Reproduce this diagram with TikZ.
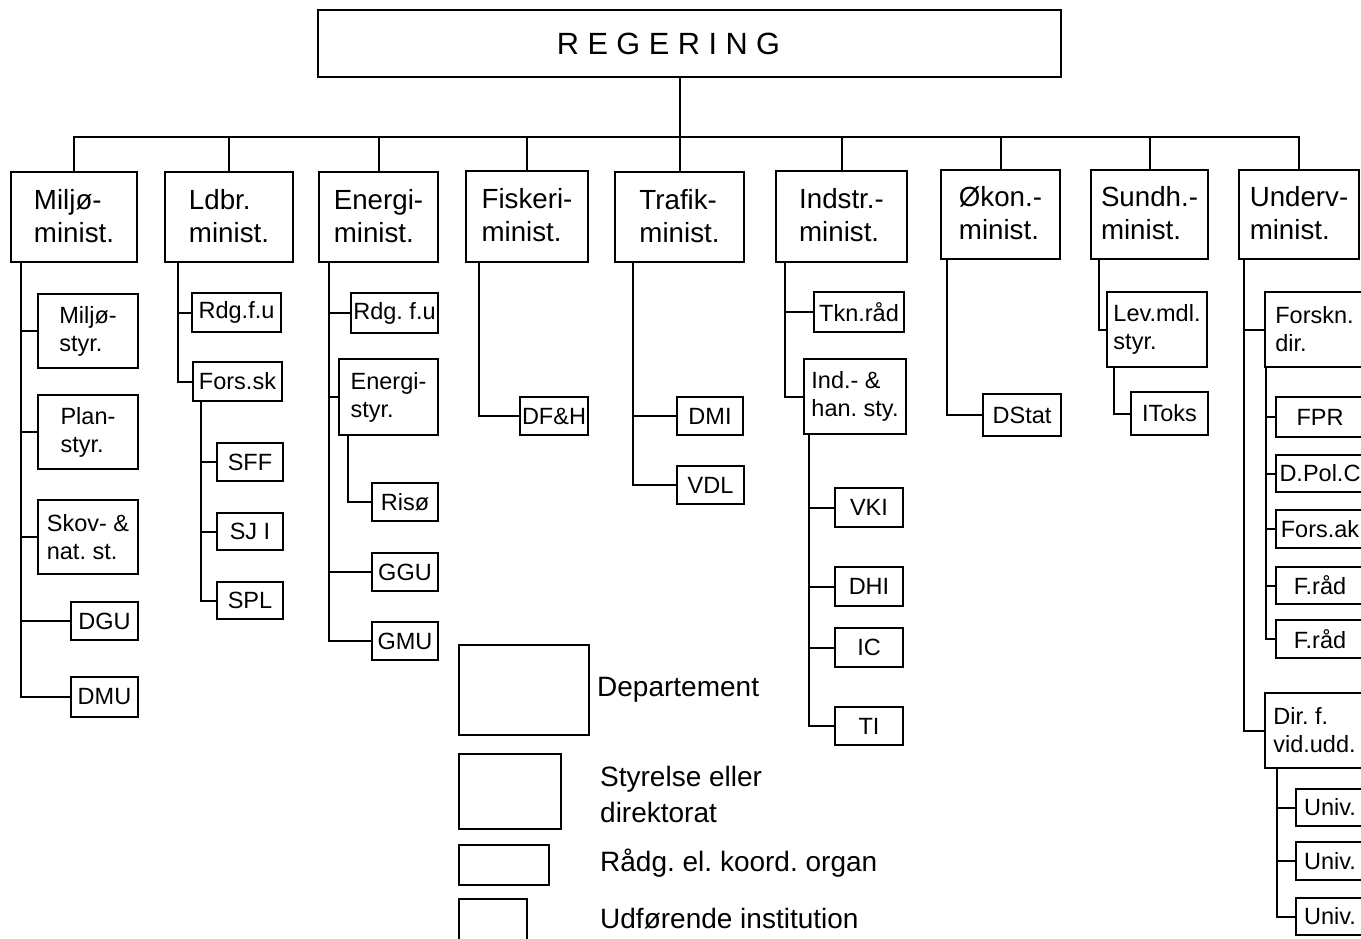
\documentclass[tikz,border=0pt]{standalone}
\usepackage{fontspec}
\setmainfont{Liberation Sans}
\frenchspacing
\begin{document}
\begin{tikzpicture}[x=1pt,y=-1pt,
  bx/.style={draw, line width=2pt, inner sep=0pt, align=left},
  rect/.style n args={4}{minimum width={(#3)-(#1)}, minimum height={(#4)-(#2)},
     at={({((#1)+(#3))/2},{((#2)+(#4))/2})}},
  mtxt/.style={font=\fontsize{27.7}{33}\selectfont, text depth=3pt},
  stxt/.style={font=\fontsize{23.5}{28}\selectfont},
  ltxt/.style={font=\fontsize{28}{36}\selectfont, inner sep=0pt, anchor=west, align=left},
  ln/.style={line width=2pt}]
\useasboundingbox (0,0) rectangle (1361,938);
\fill[white] (0,0) rectangle (1361,938);

% Government
\node[bx, font=\fontsize{30.7}{34}\selectfont, rect={318}{10}{1061}{77}] (reg)
  {R\kern8.5pt E\kern8.5pt G\kern8.5pt E\kern8.5pt R\kern8.5pt I\kern8.5pt N\kern8.5pt G\kern42pt};

% Ministries
\node[bx, mtxt, rect={11}{172}{137}{262}] (milj) {Miljø-\\minist.};
\node[bx, mtxt, rect={165}{172}{293}{262}] (ldbr) {Ldbr.\\minist.};
\node[bx, mtxt, rect={319}{172}{438}{262}] (ener) {Energi-\\minist.};
\node[bx, mtxt, rect={466}{171}{588}{262}] (fisk) {Fiskeri-\\minist.};
\node[bx, mtxt, rect={615}{172}{744}{262}] (traf) {Trafik-\\minist.};
\node[bx, mtxt, rect={776}{171}{907}{262}] (indu) {Indstr.-\\minist.};
\node[bx, mtxt, rect={941}{170}{1060}{259}] (okon) {Økon.-\\minist.};
\node[bx, mtxt, rect={1091}{170}{1208}{259}] (sund) {Sundh.-\\minist.};
\node[bx, mtxt, rect={1239}{170}{1359}{259}] (undv) {Underv-\\minist.};

% Bus
\coordinate (bus) at (0,137);
\draw[ln] (milj.north) |- (bus -| undv.north) -- (undv.north);
\foreach \m in {ldbr,ener,fisk,indu,okon,sund}
  \draw[ln] (\m.north) -- (\m.north |- bus);
\draw[ln] (reg.south -| traf.north) -- (traf.north);

% Miljo column
\node[bx, stxt, rect={38}{294}{138}{368}] (mstyr) {Miljø-\\styr.};
\node[bx, stxt, rect={38}{395}{138}{469}] (pstyr) {Plan-\\styr.};
\node[bx, stxt, rect={38}{500}{138}{574}] (sstyr) {Skov- \&\\nat. st.};
\node[bx, stxt, rect={71}{602}{138}{640}] (dgu) {DGU};
\node[bx, stxt, rect={71}{677}{138}{717}] (dmu) {DMU};
\coordinate (sMil) at (21,0);
\draw[ln] (milj.south -| sMil) |- (dmu.west);
\foreach \n in {mstyr,pstyr,sstyr,dgu} \draw[ln] (\n.west -| sMil) -- (\n.west);

% Ldbr column
\node[bx, stxt, rect={192}{293}{281}{332}] (lrdg) {Rdg.f.u};
\node[bx, stxt, rect={193}{362}{282}{401}] (fsk) {Fors.sk};
\node[bx, stxt, rect={217}{443}{283}{481}] (sff) {SFF};
\node[bx, stxt, rect={217}{513}{283}{550}] (sji) {SJ I};
\node[bx, stxt, rect={217}{582}{283}{619}] (spl) {SPL};
\coordinate (sLd) at (178,0);
\coordinate (sFs) at (201,0);
\draw[ln] (ldbr.south -| sLd) |- (fsk.west);
\draw[ln] (lrdg.west -| sLd) -- (lrdg.west);
\draw[ln] (fsk.south -| sFs) |- (spl.west);
\foreach \n in {sff,sji} \draw[ln] (\n.west -| sFs) -- (\n.west);

% Energi column
\node[bx, stxt, rect={351}{293}{438}{333}] (erdg) {Rdg. f.u};
\node[bx, stxt, rect={339}{359}{438}{435}] (estyr) {Energi-\\styr.};
\node[bx, stxt, rect={372}{483}{438}{521}] (riso) {Risø};
\node[bx, stxt, rect={372}{553}{438}{591}] (ggu) {GGU};
\node[bx, stxt, rect={372}{622}{438}{660}] (gmu) {GMU};
\coordinate (sEn) at (329,0);
\coordinate (sEs) at (348,0);
\draw[ln] (ener.south -| sEn) |- (gmu.west);
\foreach \n in {erdg,estyr,ggu} \draw[ln] (\n.west -| sEn) -- (\n.west);
\draw[ln] (estyr.south -| sEs) |- (riso.west);

% Fiskeri column
\node[bx, stxt, rect={520}{397}{588}{435}] (dfh) {DF\&H};
\coordinate (sFi) at (479,0);
\draw[ln] (fisk.south -| sFi) |- (dfh.west);

% Trafik column
\node[bx, stxt, rect={677}{397}{743}{435}] (dmi) {DMI};
\node[bx, stxt, rect={677}{466}{744}{504}] (vdl) {VDL};
\coordinate (sTr) at (633,0);
\draw[ln] (traf.south -| sTr) |- (vdl.west);
\draw[ln] (dmi.west -| sTr) -- (dmi.west);

% Industri column
\node[bx, stxt, rect={814}{292}{904}{332}] (tkn) {Tkn.råd};
\node[bx, stxt, rect={804}{359}{906}{434}] (ihs) {Ind.- \&\\han. sty.};
\node[bx, stxt, rect={835}{488}{903}{527}] (vki) {VKI};
\node[bx, stxt, rect={835}{567}{903}{606}] (dhi) {DHI};
\node[bx, stxt, rect={835}{628}{903}{667}] (ic) {IC};
\node[bx, stxt, rect={835}{707}{903}{745}] (ti) {TI};
\coordinate (sIn) at (785,0);
\coordinate (sIh) at (809,0);
\draw[ln] (indu.south -| sIn) |- (ihs.west);
\draw[ln] (tkn.west -| sIn) -- (tkn.west);
\draw[ln] (ihs.south -| sIh) |- (ti.west);
\foreach \n in {vki,dhi,ic} \draw[ln] (\n.west -| sIh) -- (\n.west);

% Okonomi column
\node[bx, stxt, rect={983}{394}{1061}{436}] (dstat) {DStat};
\coordinate (sOk) at (947,0);
\draw[ln] (okon.south -| sOk) |- (dstat.west);

% Sundhed column
\node[bx, stxt, rect={1107}{292}{1207}{367}] (lev) {Lev.mdl.\\styr.};
\node[bx, stxt, rect={1131}{392}{1208}{435}] (itoks) {IToks};
\coordinate (sSu) at (1099,0);
\coordinate (sLe) at (1114,0);
\draw[ln] (sund.south -| sSu) |- (lev.west);
\draw[ln] (lev.south -| sLe) |- (itoks.west);

% Undervisning column
\node[bx, stxt, rect={1265}{292}{1364}{367}] (fdir) {Forskn.\\dir.};
\node[bx, stxt, rect={1276}{397}{1364}{437}] (fpr) {FPR};
\node[bx, stxt, rect={1276}{455}{1364}{492}] (dpol) {D.Pol.C};
\node[bx, stxt, rect={1276}{510}{1364}{548}] (fak) {Fors.ak};
\node[bx, stxt, rect={1276}{567}{1364}{604}] (frad1) {F.råd};
\node[bx, stxt, rect={1276}{620}{1364}{658}] (frad2) {F.råd};
\node[bx, stxt, rect={1265}{693}{1364}{768}] (vdir) {Dir. f.\\vid.udd.};
\node[bx, stxt, rect={1296}{789}{1364}{826}] (univa) {Univ.};
\node[bx, stxt, rect={1296}{842}{1364}{880}] (univb) {Univ.};
\node[bx, stxt, rect={1296}{898}{1364}{935}] (univc) {Univ.};
\coordinate (sUn) at (1244,0);
\coordinate (sFd) at (1266,0);
\coordinate (sVd) at (1277,0);
\draw[ln] (undv.south -| sUn) |- (vdir.west);
\draw[ln] (fdir.west -| sUn) -- (fdir.west);
\draw[ln] (fdir.south -| sFd) |- (frad2.west);
\foreach \n in {fpr,dpol,fak,frad1} \draw[ln] (\n.west -| sFd) -- (\n.west);
\draw[ln] (vdir.south -| sVd) |- (univc.west);
\foreach \n in {univa,univb} \draw[ln] (\n.west -| sVd) -- (\n.west);

% Legend
\node[bx, rect={459}{645}{589}{735}] (lgdep) {};
\node[bx, rect={459}{754}{561}{829}] (lgsty) {};
\node[bx, rect={459}{845}{549}{885}] (lgrad) {};
\node[bx, rect={459}{899}{527}{942}] (lgudf) {};
\node[ltxt] (tdep) at (597,690) {Departement};
\node[ltxt] (tsty) at (600,794) {Styrelse eller\\direktorat};
\node[ltxt] (trad) at (600,863) {Rådg. el. koord. organ};
\node[ltxt] (tudf) at (600,919) {Udførende institution};
\end{tikzpicture}
\end{document}
